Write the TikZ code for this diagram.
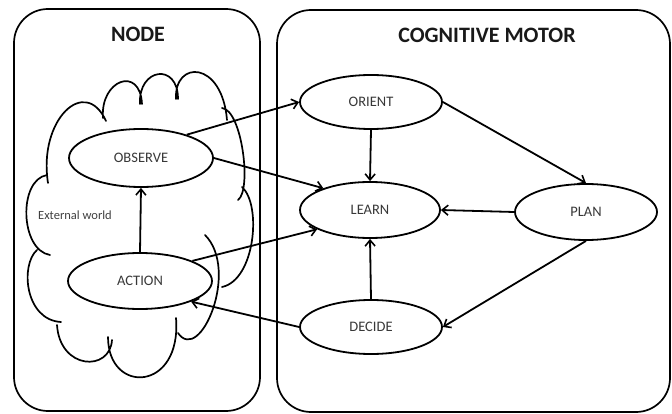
\documentclass[tikz,border=0pt]{standalone}
\usepackage{fontspec}
\setmainfont{Carlito}
\usetikzlibrary{shapes.geometric,arrows.meta}
\tikzset{
  frame/.style={draw, line width=1.7pt, rounded corners=34pt},
  ell/.style={ellipse, draw, fill=white, line width=1.8pt, inner sep=0pt, font=\fontsize{14.5}{16}\selectfont, text=black!78},
  arr/.style={line width=1.8pt, -{Straight Barb[length=6pt,width=10pt,line width=1.6pt]}},
  ttl/.style={font=\bfseries\fontsize{22}{24}\selectfont, text=black!90},
  lbl/.style={font=\fontsize{12.5}{14}\selectfont, text=black!75},
  cloudline/.style={line width=1.7pt, line cap=round}
}
\begin{document}
\begin{tikzpicture}[x=1pt,y=-1pt]
\useasboundingbox (0,0) rectangle (672,414);
% frames
\draw[frame] (14,9) rectangle (260,411);
\draw[frame] (277,10) rectangle (670,412);
\node[ttl] (tnode) at (138,34) {NODE};
\node[ttl] (tcog) at (487,35) {COGNITIVE MOTOR};
% cloud
\draw[cloudline]
  (48,183) .. controls (38,120) and (85,75) .. (106,121)
  (103,118) .. controls (100,80) and (140,65) .. (142,104)
  (140,104) .. controls (138,68) and (178,62) .. (178,99)
  (176,99) .. controls (174,60) and (222,60) .. (227,120)
  (222,108) .. controls (242,110) and (252,190) .. (238,200)
  (242,187) .. controls (262,205) and (255,280) .. (222,287)
  (205,235) .. controls (240,270) and (200,365) .. (178,333)
  (176,318) .. controls (182,392) and (108,395) .. (108,337)
  (112,340) .. controls (110,372) and (60,370) .. (57,325)
  (61,322) .. controls (25,320) and (20,265) .. (37,250)
  (50,255) .. controls (20,250) and (18,180) .. (47,175);
\node[lbl] (ext) at (75,215) {External world};
% ellipses
\node[ell, minimum width=144pt, minimum height=58pt] (obs) at (141,158) {OBSERVE};
\node[ell, minimum width=144pt, minimum height=56pt] (act) at (140,281) {ACTION};
\node[ell, minimum width=142pt, minimum height=54pt] (ori) at (371,102) {ORIENT};
\node[ell, minimum width=140pt, minimum height=56pt] (lea) at (370,210) {LEARN};
\node[ell, minimum width=142pt, minimum height=56pt] (pla) at (586,212) {PLAN};
\node[ell, minimum width=142pt, minimum height=54pt] (dec) at (371,327) {DECIDE};
% arrows
\draw[arr] (act.north) -- (obs.south);
\draw[arr] (obs.27) -- (ori.west);
\draw[arr] (obs.east) -- (lea.155);
\draw[arr] (act.21) -- (lea.200);
\draw[arr] (dec.west) -- (act.-22);
\draw[arr] (ori.south) -- (lea.north);
\draw[arr] (ori.east) -- (pla.north);
\draw[arr] (pla.west) -- (lea.east);
\draw[arr] (pla.south) -- (dec.east);
\draw[arr] (dec.north) -- (lea.south);
\end{tikzpicture}
\end{document}
